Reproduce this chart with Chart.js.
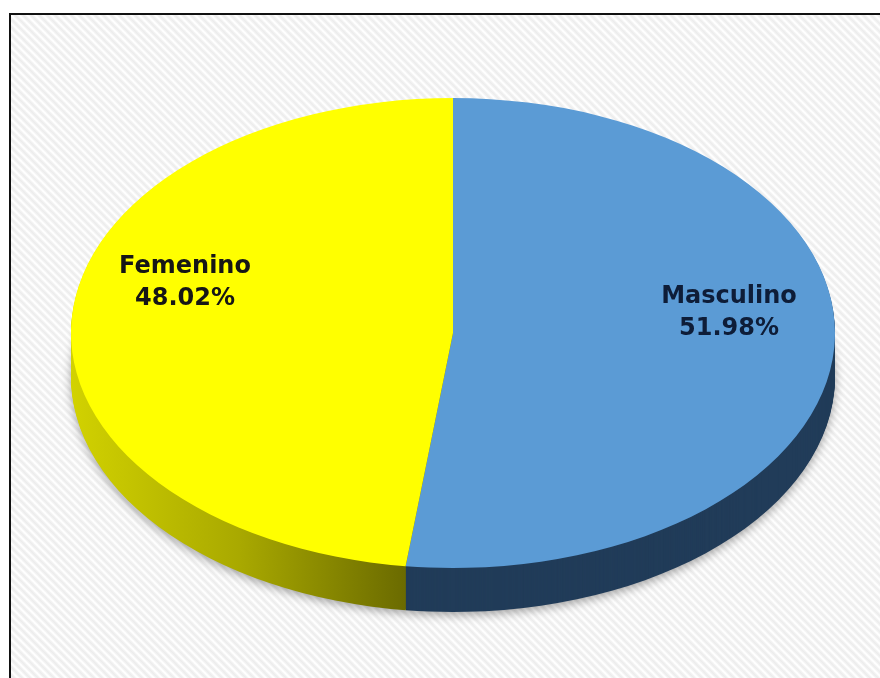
<!DOCTYPE html>
<html>
<head>
<meta charset="utf-8">
<script src="https://cdn.jsdelivr.net/npm/chart.js@4/dist/chart.umd.min.js"></script>
<style>
  html, body { margin: 0; padding: 0; background: #ffffff; }
  canvas { display: block; }
</style>
</head>
<body>
<canvas id="chart" width="880" height="678"></canvas>
<script>
// Distribución por sexo
const categories = ['Masculino', 'Femenino'];
const shares = [51.98, 48.02];

const topColors = ['#5b9bd5', '#ffff00'];
const textColors = ['#0e1d38', '#161616'];

// Geometry of the tilted pie (ellipse centre, radii, thickness)
const PIE = { cx: 453, cy: 333, rx: 382, ry: 235, depth: 44 };
// Label block centres (two lines each)
const LABEL_POS = [[729, 313], [185, 283]];
const LINE_GAP = 32;

function stripePattern(ctx) {
  const s = 8;
  const t = document.createElement('canvas');
  t.width = s; t.height = s;
  const g = t.getContext('2d');
  g.fillStyle = '#ffffff';
  g.fillRect(0, 0, s, s);
  const stroke = (color, w) => {
    g.strokeStyle = color;
    g.lineWidth = w;
    for (const o of [-s, 0, s]) {
      g.beginPath();
      g.moveTo(o - 1, -1);
      g.lineTo(o + s + 1, s + 1);
      g.stroke();
    }
  };
  stroke('#f4f4f4', 4);
  stroke('#ececec', 1.3);
  return ctx.createPattern(t, 'repeat');
}

const pie3d = {
  id: 'pie3d',
  beforeDraw(chart) {
    const ctx = chart.ctx;
    ctx.save();
    ctx.fillStyle = '#ffffff';
    ctx.fillRect(0, 0, chart.width, chart.height);
    ctx.fillStyle = stripePattern(ctx);
    ctx.fillRect(10, 15, chart.width - 10, chart.height - 15);
    ctx.strokeStyle = '#111111';
    ctx.lineWidth = 2;
    ctx.beginPath();
    ctx.moveTo(10, chart.height);
    ctx.lineTo(10, 14);
    ctx.lineTo(chart.width, 14);
    ctx.stroke();
    ctx.restore();
  },
  beforeDatasetsDraw(chart) {
    const ctx = chart.ctx;
    const arcs = chart.getDatasetMeta(0).data;

    const paint = (arc, dy, fill, shadow) => {
      const saved = arc.options;
      arc.options = Object.assign({}, saved, { backgroundColor: fill, borderColor: fill, borderWidth: 0 });
      ctx.save();
      if (shadow) {
        ctx.shadowColor = 'rgba(0,0,0,0.35)';
        ctx.shadowBlur = 10;
        ctx.shadowOffsetY = 3;
      }
      ctx.translate(PIE.cx, PIE.cy + dy);
      ctx.scale(PIE.rx / arc.outerRadius, PIE.ry / arc.outerRadius);
      ctx.translate(-arc.x, -arc.y);
      arc.draw(ctx);
      ctx.restore();
      arc.options = saved;
    };

    const sideFill = (arc, i) => {
      if (i === 0) return '#213c59';
      const R = arc.outerRadius;
      const g = ctx.createLinearGradient(arc.x - R, 0, arc.x - 0.12 * R, 0);
      g.addColorStop(0, '#d2d200');
      g.addColorStop(0.5, '#a9a900');
      g.addColorStop(1, '#6a6a00');
      return g;
    };

    // side wall, built up from the bottom layer
    for (let dy = PIE.depth; dy >= 1; dy--) {
      arcs.forEach((arc, i) => paint(arc, dy, sideFill(arc, i), dy === PIE.depth));
    }
    // top face
    arcs.forEach((arc, i) => paint(arc, 0, topColors[i], false));

    // labels
    ctx.save();
    ctx.font = 'bold 24px "DejaVu Sans"';
    ctx.textAlign = 'center';
    ctx.textBaseline = 'middle';
    arcs.forEach((arc, i) => {
      const [x, y] = LABEL_POS[i];
      ctx.fillStyle = textColors[i];
      ctx.fillText(categories[i], x, y - LINE_GAP / 2);
      ctx.fillText(shares[i].toFixed(2) + '%', x, y + LINE_GAP / 2);
    });
    ctx.restore();
    return false;
  }
};

new Chart(document.getElementById('chart'), {
  type: 'pie',
  data: {
    labels: categories,
    datasets: [{
      data: shares,
      backgroundColor: topColors,
      borderWidth: 0
    }]
  },
  options: {
    responsive: false,
    animation: false,
    layout: { padding: 0 },
    plugins: {
      legend: { display: false },
      tooltip: { enabled: false }
    }
  },
  plugins: [pie3d]
});
</script>
</body>
</html>
